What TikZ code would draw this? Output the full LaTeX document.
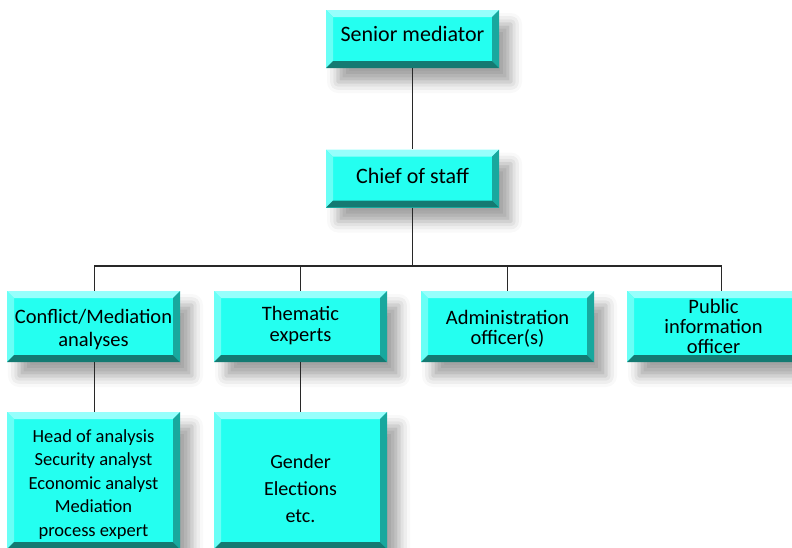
\documentclass[tikz,border=0pt]{standalone}
\usepackage{fontspec}
\setmainfont{Carlito}
\usetikzlibrary{shadows.blur}
\definecolor{face}{RGB}{36,255,240}
\definecolor{btop}{RGB}{150,255,252}
\definecolor{bleft}{RGB}{105,255,246}
\definecolor{bright}{RGB}{24,168,158}
\definecolor{bbot}{RGB}{20,122,114}
\definecolor{linec}{RGB}{40,40,40}
\tikzset{
  box/.style={
    fill=face, inner sep=0pt, align=center, text=black,
    blur shadow={shadow xshift=12pt, shadow yshift=-14pt, shadow blur radius=11pt, shadow opacity=36},
    path picture={
      \fill[btop] (path picture bounding box.north west) -- (path picture bounding box.north east)
        -- ([xshift=-7pt,yshift=-7pt]path picture bounding box.north east)
        -- ([xshift=7pt,yshift=-7pt]path picture bounding box.north west) -- cycle;
      \fill[bleft] (path picture bounding box.north west) -- ([xshift=7pt,yshift=-7pt]path picture bounding box.north west)
        -- ([xshift=7pt,yshift=7pt]path picture bounding box.south west)
        -- (path picture bounding box.south west) -- cycle;
      \fill[bright] (path picture bounding box.north east) -- ([xshift=-7pt,yshift=-7pt]path picture bounding box.north east)
        -- ([xshift=-7pt,yshift=7pt]path picture bounding box.south east)
        -- (path picture bounding box.south east) -- cycle;
      \fill[bbot] (path picture bounding box.south west) -- ([xshift=7pt,yshift=7pt]path picture bounding box.south west)
        -- ([xshift=-7pt,yshift=7pt]path picture bounding box.south east)
        -- (path picture bounding box.south east) -- cycle;
    }},
  topbox/.style={box, minimum width=173pt, minimum height=58pt},
  midbox/.style={box, minimum width=173pt, minimum height=71pt},
  lowbox/.style={box, minimum width=173pt, minimum height=137pt},
  txt/.style={inner sep=0pt, align=center, text=black},
  conn/.style={draw=linec, line width=1.4pt}
}
\begin{document}
\begin{tikzpicture}[x=1pt,y=-1pt]
\useasboundingbox (0,0) rectangle (792,547);
\node[topbox] (sm) at (412.5,39) {};
\node[topbox] (cs) at (412.5,178.5) {};
\node[midbox] (c1) at (93.5,326.5) {};
\node[midbox] (c2) at (300.5,326.5) {};
\node[midbox] (c3) at (507.5,326.5) {};
\node[midbox] (c4) at (713.5,326.5) {};
\node[lowbox] (d1) at (93.5,480.5) {};
\node[lowbox] (d2) at (300.5,480.5) {};
\node[txt, font=\fontsize{22}{26}\selectfont] (smt) at ([yshift=5pt]sm.center) {Senior mediator};
\node[txt, font=\fontsize{22}{26}\selectfont] (cst) at ([yshift=3pt]cs.center) {Chief of staff};
\node[txt, font=\fontsize{20.5}{23.5}\selectfont] (c1t) at ([yshift=-3pt]c1.center) {Conflict/Mediation\\analyses};
\node[txt, font=\fontsize{20.5}{21}\selectfont] (c2t) at ([yshift=1pt]c2.center) {Thematic\\experts};
\node[txt, font=\fontsize{20.5}{20}\selectfont] (c3t) at ([yshift=-2pt]c3.center) {Administration\\officer(s)};
\node[txt, font=\fontsize{20.5}{20}\selectfont] (c4t) at (c4.center) {Public\\information\\officer};
\node[txt, font=\fontsize{18.5}{23.5}\selectfont] (d1t) at ([yshift=-4pt]d1.center) {Head of analysis\\Security analyst\\Economic analyst\\Mediation\\process expert};
\node[txt, font=\fontsize{20}{27}\selectfont] (d2t) at ([yshift=-8pt]d2.center) {Gender\\Elections\\etc.};
\coordinate (bus) at (412.5,266);
\draw[conn] (sm.south) -- (cs.north);
\draw[conn] (cs.south) -- (bus);
\draw[conn] ([xshift=1pt]c1.north) -- ([xshift=1pt]c1.north |- bus) -- ([xshift=8pt]c4.north |- bus) -- ([xshift=8pt]c4.north);
\draw[conn] (c2.north) -- (c2.north |- bus);
\draw[conn] (c3.north) -- (c3.north |- bus);
\draw[conn] ([xshift=1pt]c1.south) -- ([xshift=1pt]d1.north);
\draw[conn] (c2.south) -- (d2.north);
\end{tikzpicture}
\end{document}
